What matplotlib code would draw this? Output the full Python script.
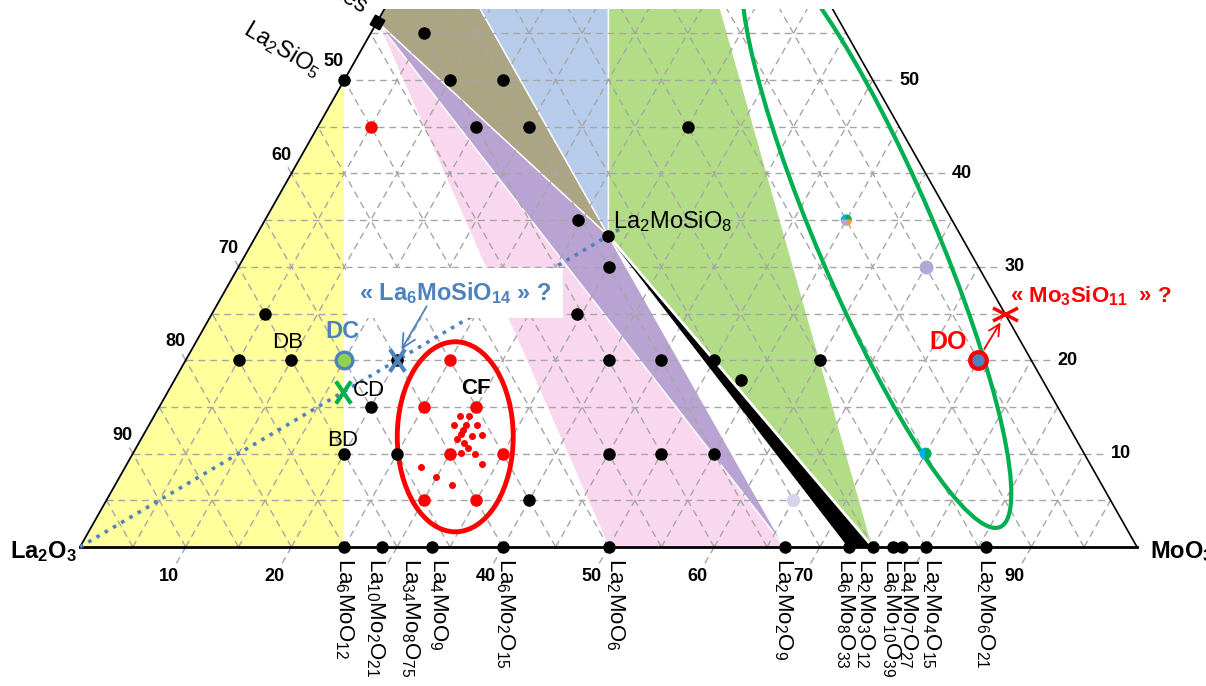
import numpy as np
import matplotlib.pyplot as plt
from matplotlib.patches import Polygon, Ellipse, Wedge
from matplotlib.path import Path

plt.rcParams['font.family'] = ['Liberation Sans', 'DejaVu Sans']
plt.rcParams['mathtext.fontset'] = 'custom'
plt.rcParams['mathtext.rm'] = 'Liberation Sans'
plt.rcParams['mathtext.it'] = 'Liberation Sans:italic'
plt.rcParams['mathtext.bf'] = 'Liberation Sans:bold'

# ---------- данные: состав в мол.% (MoO3, SiO2), La2O3 = остаток ----------
apatite = (0, 56.25)
la2si2o7 = (0, 66.67)
sio2 = (0, 100)
la2sio5 = (0, 50)
la2mosio8 = (33.33, 33.33)
la6mosio14 = (20, 20)
mo3sio11 = (75, 25)

# соединения на стороне La2O3 - MoO3
bottom_names = [r'La$_6$MoO$_{12}$', r'La$_{10}$Mo$_2$O$_{21}$', r'La$_{34}$Mo$_8$O$_{75}$',
                r'La$_4$MoO$_9$', r'La$_6$Mo$_2$O$_{15}$', r'La$_2$MoO$_6$', r'La$_2$Mo$_2$O$_9$',
                r'La$_6$Mo$_8$O$_{33}$', r'La$_2$Mo$_3$O$_{12}$', r'La$_6$Mo$_{10}$O$_{39}$',
                r'La$_4$Mo$_7$O$_{27}$', r'La$_2$Mo$_4$O$_{15}$', r'La$_2$Mo$_6$O$_{21}$']
bottom_mo = [25, 28.57, 32, 33.33, 40, 50, 66.67, 72.73, 75, 76.92, 77.78, 80, 85.71]
bottom_dot = [1, 1, 0, 1, 1, 1, 1, 1, 1, 1, 1, 1, 1]

# фазовые области (вершины)
regions = [
    ('#FFFF9C', [(0, 0), (25, 0), la2sio5]),
    ('#F9D7EE', [apatite, (50, 0), (66.67, 0)]),
    ('#B9A3D3', [apatite, la2mosio8, (66.67, 0)]),
    ('#ACA584', [apatite, la2si2o7, la2mosio8]),
    ('#B7CCEA', [la2si2o7, sio2, la2mosio8]),
    ('#B2DD86', [sio2, la2mosio8, (75, 0)]),
]
black_wedge = [la2mosio8, (72.73, 0), (75, 0)]

# экспериментальные точки
black_mo = [5, 10, 15, 15, 20, 35, 29.6, 35, 34.5, 40, 45, 50, 53.6, 60, 45, 50, 55, 40,
            5, 5, 10, 20, 20, 25, 20, 0, 33.33]
black_si = [55, 50, 50, 45, 45, 45, 35, 30, 25, 20, 20, 20, 17.9, 20, 10, 10, 10, 5,
            25, 20, 20, 15, 10, 10, 20, 50, 33.33]
red_mo = [25, 25, 30, 30, 35, 30, 35, 5]
red_si = [20, 15, 15, 10, 10, 5, 5, 45]
red_small_mo = [28.94, 29.79, 28.85, 29.99, 31.03, 29.97, 30.0, 31.15, 32.04, 29.89,
                30.77, 31.41, 31.02, 32.39, 33.59, 27.98, 29.94, 31.87]
red_small_si = [14.03, 14.03, 13.06, 13.06, 13.06, 12.53, 12.10, 11.88, 11.99, 11.56,
                11.13, 10.60, 10.06, 9.96, 8.89, 8.57, 7.49, 6.64]
dc_point = (15, 20)
cd_cross = (16.6, 16.6)
do_point = (75, 20)
lav_point = (65, 30)
pale_point = (65, 5)
quad_point = (55, 35)
half_point = (75, 10)

# эллипсы (центр в составах, размеры в единицах стороны)
green_ell_center = (58.8, 33.1)
red_ell_center = (29.6, 11.8)

bottom_ticks = [10, 20, 40, 50, 60, 70, 90]
left_ticks = [50, 60, 70, 80, 90]
right_ticks = [10, 20, 30, 40, 50]

# ---------- геометрия ----------
KY = 0.8836      # вертикальный масштаб треугольника
PXU = 10.57      # пикселей на единицу


def tern(m, s):
    m = np.asarray(m, float)
    s = np.asarray(s, float)
    return m + s / 2, s * KY


def px(x, y):
    # позиция подписи в пикселях картинки -> данные
    return (x - 80) / PXU, (547 - y) / PXU


fig = plt.figure(figsize=(12.06, 6.86), dpi=100)
ax = fig.add_axes([0, 0, 1, 677 / 686])
ax.set_xlim(-80 / PXU, 1126 / PXU)
ax.set_ylim(-139 / PXU, 538 / PXU)
ax.axis('off')

# области
for col, verts in regions:
    xy = np.column_stack(tern(*zip(*verts)))
    ax.add_patch(Polygon(xy, closed=True, facecolor=col, edgecolor='white', lw=1, zorder=1))

# сетка
grid_kw = dict(color='#A6A6A6', lw=1.0, dashes=(5, 3.5), zorder=1.5)


def seg(p, q, **kw):
    x, y = tern(*zip(p, q))
    ax.plot(x, y, **kw)


for k in range(5, 100, 5):
    seg((0, k), (100 - k, k), **grid_kw)
    seg((k, 0), (k, 100 - k), **grid_kw)
    seg((100 - k, 0), (0, 100 - k), **grid_kw)

U = np.array([50, 100 * KY])
U = U / np.linalg.norm(U)
V = np.array([-U[0], U[1]])
tick_kw = dict(fontsize=13, fontweight='bold', zorder=6)
for k in range(10, 100, 10):
    b = np.array(tern(k, 0))
    ax.plot(*zip(b, b - 2.0 * U), **grid_kw)
    l = np.array(tern(0, 100 - k))
    ax.plot(*zip(l, l + 1.0 * V), **grid_kw)
    r = np.array(tern(100 - k, k))
    ax.plot(*zip(r, r + np.array([2.2, 0])), **grid_kw)
for k in bottom_ticks:
    p = np.array(tern(k, 0)) - 3.2 * U
    ax.text(p[0], p[1], str(k), ha='center', va='center', **tick_kw)
for k in left_ticks:
    p = np.array(tern(0, 100 - k)) + 2.0 * V
    ax.text(p[0], p[1], str(k), ha='center', va='center', **tick_kw)
for k in right_ticks:
    p = np.array(tern(100 - k, k)) + np.array([2.5, 0])
    ax.text(p[0], p[1], str(k), ha='left', va='center', **tick_kw)

# чёрный клин и его белая граница с зелёной областью
xy = np.column_stack(tern(*zip(*black_wedge)))
ax.add_patch(Polygon(xy, closed=True, facecolor='black', edgecolor='black', lw=1, zorder=2))
seg(la2mosio8, (75, 0), color='white', lw=2, zorder=2.2)

# стороны треугольника
seg((0, 0), sio2, color='black', lw=1.3, zorder=3)
seg((100, 0), sio2, color='black', lw=1.2, zorder=3)
seg((0, 0), (100, 0), color='black', lw=2, zorder=3)

# линия La2O3 -> La2MoSiO8
seg((0, 0), (34, 34), color='#4F81BD', lw=2.6, ls=':', zorder=3)

# эллипсы
gx, gy = tern(*green_ell_center)
ax.add_patch(Ellipse((gx, gy), 59.5, 11.1, angle=-66.85, fill=False,
                     edgecolor='#00B050', lw=3, zorder=4))
rx, ry = tern(*red_ell_center)
ax.add_patch(Ellipse((rx, ry), 10.97, 17.98, angle=0, fill=False,
                     edgecolor='#FF0000', lw=3.5, zorder=4))

# точки
bx, by = tern(black_mo, black_si)
ax.plot(bx, by, 'o', color='black', ms=8, zorder=5)
dm = [m for m, d in zip(bottom_mo, bottom_dot) if d]
ax.plot(*tern(dm, np.zeros(len(dm))), 'o', color='black', ms=8, zorder=5)
ax.plot(*tern(red_mo, red_si), 'o', color='#FF0000', ms=8, zorder=5)
ax.plot(*tern(red_small_mo, red_small_si), 'o', color='#FF0000', ms=4, zorder=5)
ax.plot(*tern(*lav_point), 'o', color='#B4A7D6', ms=9, zorder=5)
ax.plot(*tern(*pale_point), 'o', color='#D9D2E9', ms=8.5, zorder=5)
ax.plot(*tern(*apatite), marker=(4, 0, 15), color='black', ms=11, zorder=5)

r = 0.47
qx, qy = tern(*quad_point)
for a0, col in zip([90, 0, 270, 180], ['#00B0F0', '#00B050', '#F79646', '#B4A7D6']):
    ax.add_patch(Wedge((float(qx), float(qy)), r, a0, a0 + 90, color=col, zorder=5))
hx, hy = tern(*half_point)
ax.add_patch(Wedge((float(hx), float(hy)), 0.5, 90, 270, color='#00B0F0', zorder=5))
ax.add_patch(Wedge((float(hx), float(hy)), 0.5, 270, 90, color='#00B050', zorder=5))

ax.plot(*tern(*dc_point), 'o', mfc='#92D050', mec='#4F81BD', ms=12, mew=2.4, zorder=5)
ax.plot(*tern(*do_point), 'o', mfc='#4F81BD', mec='#FF0000', ms=12, mew=3, zorder=5)

tall_x = Path([(-0.68, -1), (0.68, 1), (-0.68, 1), (0.68, -1)],
              [Path.MOVETO, Path.LINETO, Path.MOVETO, Path.LINETO])
flat_x = Path([(-1, -0.52), (1, 0.52), (-1, 0.52), (1, -0.52)],
              [Path.MOVETO, Path.LINETO, Path.MOVETO, Path.LINETO])
ax.plot(*tern(*cd_cross), marker=tall_x, color='#00B050', ms=16, mew=3, zorder=5.5)
ax.plot(*tern(*la6mosio14), marker=tall_x, color='#4F81BD', ms=16, mew=3, zorder=5.5)
ax.plot(*tern(*mo3sio11), marker=flat_x, color='#FF0000', ms=18, mew=2.5, zorder=5.5)

# стрелки
ax.annotate('', xy=px(400, 352), xytext=px(428, 304),
            arrowprops=dict(arrowstyle='->', color='#4F81BD', lw=1.3, mutation_scale=24), zorder=6)
ax.annotate('', xy=px(1002, 320), xytext=px(983, 351),
            arrowprops=dict(arrowstyle='->', color='#FF0000', lw=1.3, mutation_scale=20), zorder=6)

# подписи
ax.text(*px(77, 552), r'La$_\mathbf{2}$O$_\mathbf{3}$', fontsize=17, fontweight='bold',
        ha='right', va='center', zorder=6)
ax.text(*px(1150, 552), r'MoO$_\mathbf{3}$', fontsize=17, fontweight='bold',
        ha='left', va='center', zorder=6)
ax.text(*px(282, 50), r'La$_2$SiO$_5$', fontsize=17, rotation=-31,
        ha='center', va='center', zorder=6)
ax.text(*px(366, 9), 'Apatites', fontsize=17, rotation=-31, rotation_mode='anchor',
        ha='right', va='center', zorder=6)
ax.text(*px(613, 222), r'La$_2$MoSiO$_8$', fontsize=17, ha='left', va='center', zorder=6)
ax.text(*px(288, 342), 'DB', fontsize=16, ha='center', va='center', zorder=6)
ax.text(*px(369, 390), 'CD', fontsize=16, ha='center', va='center', zorder=6)
ax.text(*px(343, 440), 'BD', fontsize=16, ha='center', va='center', zorder=6)
ax.text(*px(342, 331), 'DC', fontsize=17, fontweight='bold', color='#4F81BD',
        ha='center', va='center', zorder=6)
ax.text(*px(476, 388), 'CF', fontsize=16, fontweight='bold', ha='center', va='center', zorder=6)
ax.text(*px(948, 342), 'DO', fontsize=18, fontweight='bold', color='#FF0000',
        ha='center', va='center', zorder=6)
ax.text(*px(1091, 296), r'« Mo$_\mathbf{3}$SiO$_\mathbf{11}$  » ?', fontsize=16,
        fontweight='bold', color='#FF0000', ha='center', va='center', zorder=6)
ax.text(*px(455, 293), r'« La$_\mathbf{6}$MoSiO$_\mathbf{14}$ » ?', fontsize=17,
        fontweight='bold', color='#4F81BD', ha='center', va='center', zorder=5.8,
        bbox=dict(facecolor='white', edgecolor='none', boxstyle='square,pad=0.5'))

# подписи соединений под осью
bottom_label_px = [344, 375, 410, 438, 505, 615, 783, 845, 865, 891, 908, 931, 985]
for name, xp in zip(bottom_names, bottom_label_px):
    ax.text(*px(xp, 558), name, fontsize=16, rotation=-90, ha='center', va='top', zorder=6)

fig.savefig('out.png', dpi=100)
